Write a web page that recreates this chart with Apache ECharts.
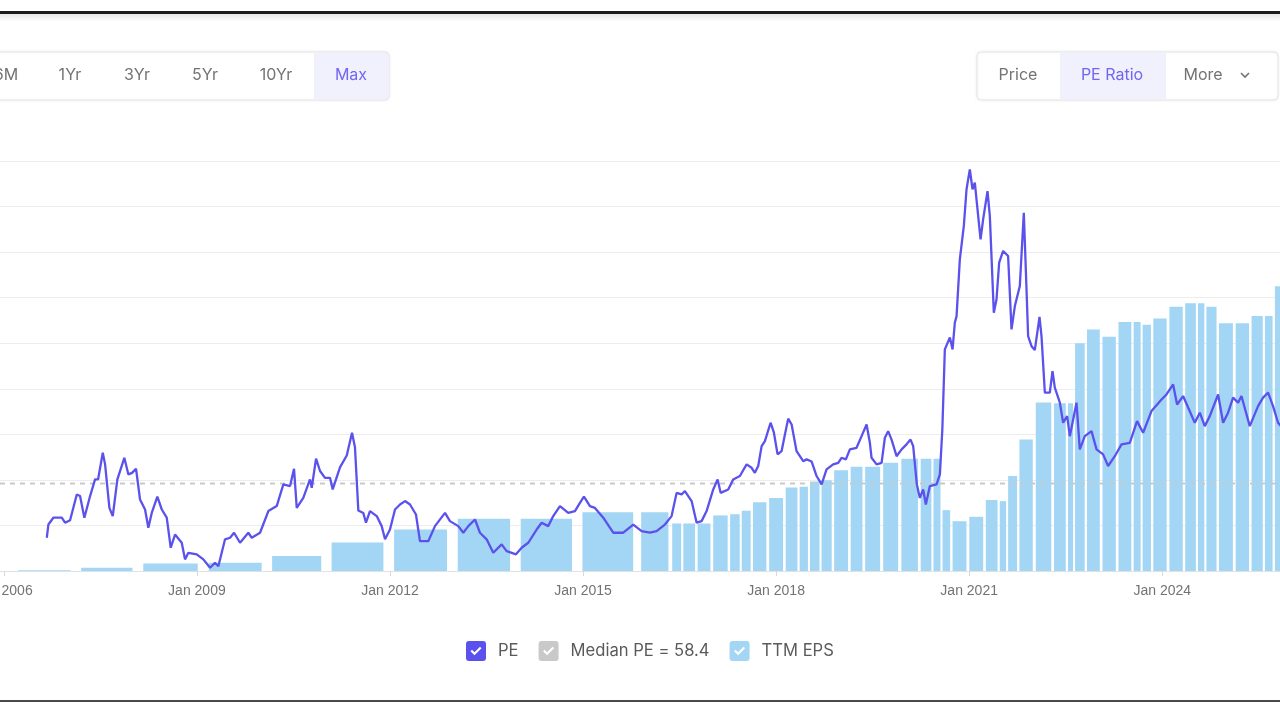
<!DOCTYPE html>
<html>
<head>
<meta charset="utf-8">
<title>PE Ratio</title>
<script src="https://cdn.jsdelivr.net/npm/echarts@6/dist/echarts.min.js"></script>
<style>
  html, body { margin: 0; padding: 0; background: #fff; }
  #chart { width: 1280px; height: 720px; }
</style>
</head>
<body>
<div id="chart"></div>
<script>
  // PE line (date as decimal year, value)
  const peYears = [2006.667, 2006.692, 2006.769, 2006.900, 2006.951, 2007.029, 2007.133, 2007.184, 2007.251, 2007.340, 2007.417, 2007.464, 2007.537, 2007.573, 2007.640, 2007.692, 2007.764, 2007.872, 2007.935, 2007.992, 2008.054, 2008.116, 2008.194, 2008.245, 2008.298, 2008.385, 2008.454, 2008.531, 2008.593, 2008.660, 2008.764, 2008.815, 2008.867, 2008.997, 2009.100, 2009.204, 2009.281, 2009.333, 2009.437, 2009.515, 2009.577, 2009.670, 2009.799, 2009.852, 2009.981, 2010.110, 2010.240, 2010.343, 2010.447, 2010.509, 2010.551, 2010.653, 2010.757, 2010.784, 2010.851, 2010.913, 2010.990, 2011.068, 2011.110, 2011.223, 2011.328, 2011.410, 2011.456, 2011.508, 2011.585, 2011.627, 2011.689, 2011.794, 2011.871, 2011.923, 2012.000, 2012.078, 2012.156, 2012.233, 2012.311, 2012.404, 2012.466, 2012.595, 2012.699, 2012.855, 2012.932, 2013.061, 2013.139, 2013.217, 2013.321, 2013.398, 2013.502, 2013.605, 2013.735, 2013.813, 2013.958, 2014.046, 2014.149, 2014.279, 2014.357, 2014.459, 2014.537, 2014.641, 2014.770, 2014.874, 2014.952, 2015.014, 2015.107, 2015.185, 2015.314, 2015.469, 2015.625, 2015.780, 2015.910, 2016.039, 2016.143, 2016.272, 2016.376, 2016.454, 2016.532, 2016.583, 2016.687, 2016.765, 2016.842, 2016.920, 2017.023, 2017.091, 2017.138, 2017.256, 2017.333, 2017.437, 2017.542, 2017.619, 2017.670, 2017.722, 2017.775, 2017.826, 2017.914, 2017.966, 2018.023, 2018.085, 2018.137, 2018.188, 2018.241, 2018.318, 2018.421, 2018.474, 2018.551, 2018.629, 2018.707, 2018.784, 2018.887, 2018.965, 2019.017, 2019.084, 2019.146, 2019.250, 2019.328, 2019.406, 2019.457, 2019.483, 2019.561, 2019.639, 2019.690, 2019.741, 2019.794, 2019.872, 2019.950, 2020.027, 2020.089, 2020.130, 2020.187, 2020.234, 2020.285, 2020.327, 2020.389, 2020.493, 2020.545, 2020.583, 2020.622, 2020.700, 2020.742, 2020.777, 2020.804, 2020.855, 2020.917, 2020.959, 2021.010, 2021.052, 2021.088, 2021.124, 2021.177, 2021.217, 2021.285, 2021.321, 2021.383, 2021.425, 2021.466, 2021.528, 2021.605, 2021.658, 2021.710, 2021.787, 2021.849, 2021.891, 2021.916, 2021.969, 2022.020, 2022.093, 2022.124, 2022.176, 2022.253, 2022.295, 2022.331, 2022.409, 2022.460, 2022.522, 2022.564, 2022.668, 2022.719, 2022.797, 2022.901, 2022.979, 2023.081, 2023.159, 2023.263, 2023.367, 2023.496, 2023.609, 2023.703, 2023.833, 2023.989, 2024.066, 2024.169, 2024.231, 2024.324, 2024.506, 2024.584, 2024.661, 2024.739, 2024.868, 2024.946, 2025.023, 2025.101, 2025.179, 2025.231, 2025.360, 2025.489, 2025.567, 2025.645, 2025.722, 2025.800, 2025.889]
  const peValues = [34.6, 40.4, 43.4, 43.4, 41.2, 42.3, 53.6, 52.9, 43.4, 52.9, 60.2, 60.2, 71.9, 66.8, 47.7, 44.1, 60.2, 69.7, 62.4, 63.1, 64.9, 51.4, 47.0, 39.0, 45.5, 52.6, 47.0, 43.4, 30.2, 36.0, 32.4, 25.1, 28.0, 27.3, 25.1, 21.4, 23.6, 22.1, 33.9, 34.6, 36.8, 32.4, 36.8, 34.6, 36.8, 46.3, 48.5, 58.0, 57.3, 64.9, 47.7, 52.1, 60.2, 56.5, 69.3, 63.9, 60.9, 60.9, 55.8, 65.5, 70.7, 80.7, 74.3, 46.6, 45.5, 41.2, 46.3, 44.1, 39.7, 33.9, 38.2, 47.0, 49.2, 50.7, 49.2, 44.8, 33.1, 33.1, 39.7, 45.5, 41.9, 39.7, 36.8, 39.7, 42.6, 36.8, 33.9, 28.0, 31.7, 28.7, 27.3, 30.2, 32.4, 38.2, 41.2, 39.7, 44.1, 48.5, 45.5, 46.3, 49.9, 52.6, 48.5, 47.7, 43.4, 36.8, 36.8, 40.4, 37.5, 36.8, 37.5, 40.4, 44.1, 54.3, 53.6, 55.1, 50.7, 41.2, 41.9, 46.3, 55.8, 60.2, 54.3, 55.8, 60.2, 61.7, 66.8, 65.3, 63.1, 66.1, 74.8, 77.0, 85.1, 80.7, 71.2, 72.6, 79.9, 86.9, 84.3, 72.6, 68.2, 69.0, 68.1, 61.7, 58.0, 64.6, 66.8, 67.5, 69.7, 69.0, 73.4, 74.1, 79.2, 84.3, 76.3, 69.7, 66.8, 67.5, 78.5, 81.4, 77.7, 70.4, 73.4, 75.6, 77.7, 74.8, 58.0, 52.1, 55.8, 49.2, 57.3, 58.0, 62.4, 82.1, 117.3, 122.5, 117.3, 129.0, 131.9, 156.8, 171.5, 187.6, 196.3, 187.6, 190.5, 180.3, 165.6, 174.4, 186.8, 175.9, 133.4, 139.3, 155.4, 160.5, 158.3, 126.1, 136.3, 145.1, 177.3, 143.7, 123.1, 118.7, 117.0, 131.6, 123.1, 98.3, 98.3, 107.7, 100.5, 93.9, 85.1, 88.0, 79.2, 93.9, 73.4, 79.2, 81.4, 73.4, 71.2, 66.1, 70.4, 75.6, 76.3, 85.8, 80.7, 90.2, 95.3, 97.5, 101.9, 93.1, 96.8, 85.1, 89.5, 83.6, 88.0, 97.5, 85.1, 89.5, 96.1, 93.9, 96.8, 83.6, 92.4, 96.1, 98.3, 92.4, 85.1, 82.1]

  // TTM EPS bars: period edges (decimal year) and value of each period
  const epsEdges = [2006.14, 2007.12, 2008.08, 2009.10, 2010.09, 2011.01, 2011.98, 2012.97, 2013.95, 2014.91, 2015.86, 2016.37, 2016.54, 2016.76, 2017.00, 2017.27, 2017.45, 2017.62, 2017.87, 2018.13, 2018.35, 2018.51, 2018.69, 2018.88, 2019.14, 2019.36, 2019.64, 2019.92, 2020.23, 2020.43, 2020.57, 2020.72, 2020.98, 2021.24, 2021.46, 2021.59, 2021.76, 2022.01, 2022.30, 2022.52, 2022.63, 2022.81, 2023.05, 2023.30, 2023.54, 2023.68, 2023.84, 2024.09, 2024.34, 2024.54, 2024.67, 2024.86, 2025.12, 2025.37, 2025.58, 2025.73, 2025.98]
  const epsValues = [0.05, 0.21, 0.49, 0.54, 0.98, 1.88, 2.73, 3.44, 3.44, 3.87, 3.87, 3.13, 3.13, 3.13, 3.66, 3.74, 3.97, 4.53, 4.80, 5.50, 5.55, 5.90, 5.98, 6.64, 6.87, 6.87, 7.13, 7.39, 7.39, 7.39, 4.01, 3.28, 3.57, 4.68, 4.60, 6.25, 8.66, 11.10, 11.04, 11.04, 14.99, 15.91, 15.43, 16.39, 16.39, 16.22, 16.62, 17.41, 17.63, 17.63, 17.41, 16.31, 16.31, 16.79, 16.79, 18.75]

  const medianPE = 58.4
  const tickYears = [2006, 2009, 2012, 2015, 2018, 2021, 2024]
  const rangeButtons = ['6M', '1Yr', '3Yr', '5Yr', '10Yr', 'Max']
  const metricButtons = ['Price', 'PE Ratio', 'More']

  const X_MIN = 2005.94
  const X_MAX = 2025.83
  const PE_COLOR = '#5b51ec'
  const EPS_COLOR = '#a3d6f5'
  const MEDIAN_COLOR = '#c9c9c9'
  const UI_FONT = 'Inter, "Noto Sans", sans-serif'

  const checkIcon = 'path://M3,0L17,0Q20,0,20,3L20,17Q20,20,17,20L3,20Q0,20,0,17L0,3Q0,0,3,0Z' +
    'M4.5,10.2L8.5,14.2L15.5,7.2L14,5.8L8.5,11.3L6,8.8Z'

  const peData = []
  for (let i = 0; i < Math.min(peYears.length, peValues.length); i++) {
    peData.push([peYears[i], peValues[i]])
  }
  const epsData = epsValues.map((v, i) => [epsEdges[i], epsEdges[i + 1], v])

  const renderBar = (params, api) => {
    const base = api.coord([api.value(0), 0])
    const top = api.coord([api.value(1), api.value(2)])
    const w = top[0] - base[0]
    const gap = Math.max(2, w * 0.17)
    return {
      type: 'rect',
      shape: { x: base[0] + gap / 2, y: top[1], width: w - gap, height: base[1] - top[1] },
      style: api.style()
    }
  }

  const buttonText = (label, x, active) => ({
    type: 'text',
    x, y: 75,
    z: 10,
    style: {
      text: label,
      font: '16px ' + UI_FONT,
      fill: active ? '#7166f0' : '#737373',
      align: 'center',
      verticalAlign: 'middle'
    }
  })

  const rangeX = [6, 70, 137, 205, 276, 351]
  const metricX = [1018, 1112, 1203]

  const graphics = [
    // screenshot frame
    { type: 'rect', shape: { x: 0, y: 11, width: 1280, height: 3 }, style: { fill: '#1b1b1b' } },
    {
      type: 'rect', shape: { x: 0, y: 14, width: 1280, height: 8 },
      style: { fill: new echarts.graphic.LinearGradient(0, 0, 0, 1, [
        { offset: 0, color: 'rgba(0,0,0,0.10)' }, { offset: 1, color: 'rgba(0,0,0,0)' }]) }
    },
    { type: 'rect', shape: { x: 0, y: 700, width: 1280, height: 2 }, style: { fill: '#4a4a4a' } },
    // range buttons
    {
      type: 'rect', shape: { x: -10, y: 52, width: 399, height: 48, r: 4 },
      style: { fill: '#fff', stroke: '#e4e4e8', lineWidth: 1, shadowBlur: 3, shadowColor: 'rgba(0,0,0,0.06)' }
    },
    { type: 'rect', shape: { x: 314, y: 53, width: 74, height: 46 }, style: { fill: '#f1f0fd' } },
    // metric buttons
    {
      type: 'rect', shape: { x: 977, y: 52, width: 301, height: 48, r: 4 },
      style: { fill: '#fff', stroke: '#e4e4e8', lineWidth: 1, shadowBlur: 3, shadowColor: 'rgba(0,0,0,0.06)' }
    },
    { type: 'rect', shape: { x: 1060, y: 53, width: 106, height: 46 }, style: { fill: '#f1f0fd' } },
    {
      type: 'polyline', shape: { points: [[1241, 73], [1245, 77], [1249, 73]] },
      style: { stroke: '#737373', lineWidth: 1.6, fill: null }
    }
  ]
  rangeButtons.forEach((b, i) => graphics.push(buttonText(b, rangeX[i], b === 'Max')))
  metricButtons.forEach((b, i) => graphics.push(buttonText(b, metricX[i], b === 'PE Ratio')))

  const chart = echarts.init(document.getElementById('chart'))
  chart.setOption({
    animation: false,
    backgroundColor: '#fff',
    grid: { left: 0, right: 0, top: 161, bottom: 149, containLabel: false, outerBoundsMode: 'none' },
    xAxis: {
      type: 'value',
      min: X_MIN,
      max: X_MAX,
      splitLine: { show: false },
      axisLine: { lineStyle: { color: '#e2e2e2' } },
      axisTick: { customValues: tickYears, length: 5, lineStyle: { color: '#d8d8d8' } },
      axisLabel: {
        customValues: tickYears,
        formatter: v => 'Jan ' + Math.round(v),
        color: '#737373',
        fontSize: 14,
        margin: 13,
        fontFamily: '"Liberation Sans", Arial, sans-serif'
      }
    },
    yAxis: [
      {
        type: 'value',
        min: 20,
        max: 200,
        interval: 20,
        axisLine: { show: false },
        axisTick: { show: false },
        axisLabel: { show: false },
        splitLine: { lineStyle: { color: '#ededed', width: 1 } }
      },
      { type: 'value', min: 0, max: 27, show: false, splitLine: { show: false } }
    ],
    legend: {
      left: 466,
      top: 641,
      padding: 0,
      itemWidth: 20,
      itemHeight: 20,
      itemGap: 20,
      icon: checkIcon,
      selectedMode: false,
      textStyle: { fontSize: 16.6, color: '#5a5a5a', fontFamily: UI_FONT, padding: [0, 0, 0, 7] },
      data: [
        { name: 'PE', itemStyle: { color: PE_COLOR, borderWidth: 0 } },
        { name: 'Median PE = ' + medianPE, itemStyle: { color: MEDIAN_COLOR, borderWidth: 0 } },
        { name: 'TTM EPS', itemStyle: { color: EPS_COLOR, borderWidth: 0 } }
      ]
    },
    graphic: { elements: graphics },
    series: [
      {
        name: 'TTM EPS',
        type: 'custom',
        yAxisIndex: 1,
        renderItem: renderBar,
        encode: { x: [0, 1], y: 2 },
        itemStyle: { color: EPS_COLOR },
        data: epsData
      },
      {
        name: 'Median PE = ' + medianPE,
        type: 'line',
        symbol: 'none',
        lineStyle: { color: MEDIAN_COLOR, width: 2, type: [5, 5] },
        itemStyle: { color: MEDIAN_COLOR },
        data: [[X_MIN, medianPE], [X_MAX, medianPE]]
      },
      {
        name: 'PE',
        type: 'line',
        symbol: 'none',
        lineStyle: { color: PE_COLOR, width: 2.3 },
        itemStyle: { color: PE_COLOR },
        data: peData
      }
    ]
  })
</script>
</body>
</html>
